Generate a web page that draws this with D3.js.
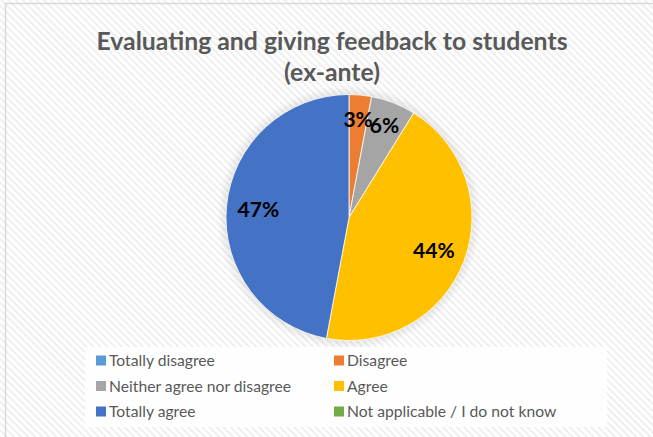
<!DOCTYPE html>
<html>
<head>
<meta charset="utf-8">
<script src="https://cdn.jsdelivr.net/npm/d3@7"></script>
<style>
html,body{margin:0;padding:0;background:#fff;}
svg{display:block;}
</style>
</head>
<body>
<svg id="chart" width="653" height="437"></svg>
<script>
const titleLines = ["Evaluating and giving feedback to students", "(ex-ante)"];
const categories = ["Totally disagree", "Disagree", "Neither agree nor disagree", "Agree", "Totally agree", "Not applicable / I do not know"];
const values = [0, 1, 2, 15, 16, 0];
const colors = ["#5b9bd5", "#ed7d31", "#a5a5a5", "#ffc000", "#4472c4", "#70ad47"];

const W = 653, H = 437;
const svg = d3.select("#chart");
const defs = svg.append("defs");

const pat = defs.append("pattern")
  .attr("id", "hatch").attr("patternUnits", "userSpaceOnUse")
  .attr("width", 5).attr("height", 5)
  .attr("patternTransform", "rotate(-45)");
pat.append("rect").attr("width", 5).attr("height", 5).attr("fill", "#ffffff");
pat.append("rect").attr("x", 0).attr("y", 0).attr("width", 2).attr("height", 5).attr("fill", "#efefef");

const shadow = defs.append("radialGradient").attr("id", "glow");
shadow.append("stop").attr("offset", "0.9").attr("stop-color", "#000").attr("stop-opacity", 0.12);
shadow.append("stop").attr("offset", "1").attr("stop-color", "#000").attr("stop-opacity", 0);

svg.append("rect").attr("x", 0).attr("y", 0).attr("width", W).attr("height", H).attr("fill", "url(#hatch)");
svg.append("path").attr("d", `M5.5,${H} L5.5,3.5 L${W},3.5`).attr("fill", "none").attr("stroke", "#d9d9d9").attr("stroke-width", 1.5);

const title = svg.append("text").attr("text-anchor", "middle")
  .attr("font-family", "Lato, 'Open Sans', sans-serif").attr("font-weight", "bold")
  .attr("font-size", 24.8).attr("fill", "#595959");
titleLines.forEach((t, i) => {
  title.append("tspan").attr("x", 332).attr("y", 50 + i * 31).text(t);
});

const cx = 349, cy = 217.5, R = 123;
const g = svg.append("g").attr("transform", `translate(${cx},${cy})`);
g.append("circle").attr("r", R + 9).attr("fill", "url(#glow)");

const pie = d3.pie().sort(null).value(d => d.v);
const data = categories.map((c, i) => ({c, v: values[i], col: colors[i]}));
const arcs = pie(data);
const total = d3.sum(values);
const arc = d3.arc().innerRadius(0).outerRadius(R);

g.selectAll("path.slice").data(arcs.filter(d => d.data.v > 0)).join("path")
  .attr("class", "slice")
  .attr("d", arc).attr("fill", d => d.data.col)
  .attr("stroke", "#ffffff").attr("stroke-width", 0.8);

const labelArcBig = d3.arc().innerRadius(R * 0.74).outerRadius(R * 0.74);
const labelArcSmall = d3.arc().innerRadius(R * 0.8).outerRadius(R * 0.8);
g.selectAll("text.lbl").data(arcs.filter(d => d.data.v > 0)).join("text")
  .attr("class", "lbl")
  .attr("transform", d => {
    const frac = d.data.v / total;
    const p = (frac < 0.1 ? labelArcSmall : labelArcBig).centroid(d);
    return `translate(${p[0]},${p[1]})`;
  })
  .attr("text-anchor", "middle").attr("dy", "0.36em")
  .attr("font-family", "Lato, 'Open Sans', sans-serif").attr("font-weight", "bold")
  .attr("font-size", 21).attr("fill", "#000")
  .text(d => Math.round(d.data.v / total * 100) + "%");

svg.append("rect").attr("x", 85).attr("y", 347).attr("width", 522).attr("height", 80).attr("fill", "#ffffff").attr("opacity", 0.85);
const colX = [96, 334];
const rowY = [360.5, 386, 411.5];
const leg = svg.append("g");
const items = leg.selectAll("g").data(data).join("g")
  .attr("transform", (d, i) => `translate(${colX[i % 2]},${rowY[Math.floor(i / 2)]})`);
items.append("rect").attr("x", 0).attr("y", -5).attr("width", 10).attr("height", 10).attr("fill", d => d.col);
items.append("text").attr("x", 13).attr("dy", "0.35em")
  .attr("font-family", "Lato, 'Open Sans', sans-serif").attr("font-size", 15.7).attr("fill", "#595959")
  .text(d => d.c);
</script>
</body>
</html>
